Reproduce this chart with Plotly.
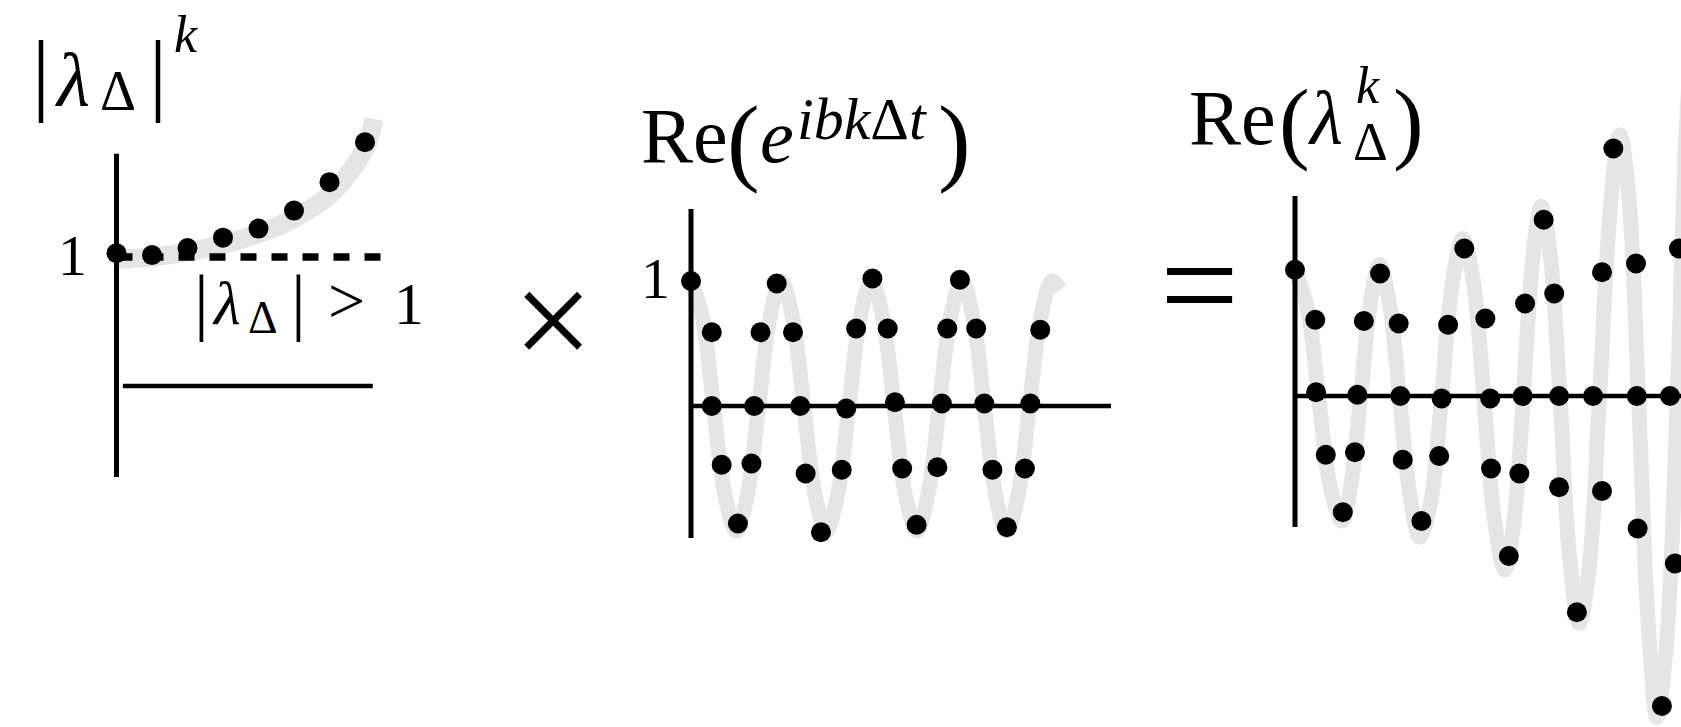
import plotly.graph_objects as go

W, H = 1681, 727
SERIF = "Liberation Serif"
GRAY = "#e5e5e5"
INK = "black"

# ---------------- panel 1 : |lambda|^k ----------------
mag_k = [0, 1, 2, 3, 4, 5, 6, 7]
mag_v = [1.03, 1.015, 1.07, 1.15, 1.22, 1.36, 1.58, 1.89]
mag_curve_k = [0, 1, 2, 3, 4, 5, 6, 7, 7.25]
mag_curve_v = [0.98, 1.0, 1.04, 1.10, 1.18, 1.30, 1.48, 1.84, 2.07]

# ---------------- panel 2 : Re(exp(i b k dt)) ----------------
osc_t = [0.00, 0.23, 0.23, 0.34, 0.52, 0.67, 0.70, 0.77, 0.95, 1.13, 1.21,
         1.27, 1.44, 1.67, 1.72, 1.83, 2.01, 2.18, 2.26, 2.34, 2.50, 2.73,
         2.78, 2.84, 2.98, 3.16, 3.25, 3.34, 3.50, 3.70, 3.76, 3.87]
osc_v = [1.00, 0.59, 0.00, -0.47, -0.94, -0.46, 0.00, 0.59, 0.98, 0.59, 0.00,
         -0.54, -1.01, -0.51, -0.02, 0.62, 1.02, 0.62, 0.03, -0.50, -0.95, -0.49,
         0.02, 0.62, 1.01, 0.62, 0.02, -0.51, -0.97, -0.50, 0.02, 0.61]
osc_curve_t = [0.000, 0.125, 0.250, 0.375, 0.500, 0.625, 0.750, 0.875,
               1.000, 1.125, 1.250, 1.375, 1.500, 1.625, 1.750, 1.875,
               2.000, 2.125, 2.250, 2.375, 2.500, 2.625, 2.750, 2.875,
               3.000, 3.125, 3.250, 3.375, 3.500, 3.625, 3.750, 3.875,
               4.000, 4.090]
osc_curve_v = [1.00, 0.71, 0.00, -0.71, -1.00, -0.71, 0.00, 0.71,
               1.00, 0.71, 0.00, -0.71, -1.00, -0.71, 0.00, 0.71,
               1.00, 0.71, 0.00, -0.71, -1.00, -0.71, 0.00, 0.71,
               1.00, 0.71, 0.00, -0.71, -1.00, -0.71, 0.00, 0.71,
               1.00, 0.93]

# ---------------- panel 3 : Re(lambda^k) ----------------
grow_t = [0.00, 0.25, 0.26, 0.38, 0.59, 0.74, 0.77, 0.85, 1.05, 1.28, 1.30,
          1.33, 1.56, 1.78, 1.81, 1.89, 2.09, 2.35, 2.41, 2.42, 2.64, 2.77,
          2.81, 2.84, 3.07, 3.20, 3.26, 3.26, 3.48, 3.79, 3.68, 3.79, 3.93,
          4.21, 4.22, 4.23, 4.53, 4.69, 4.63, 4.74, 4.83]
grow_v = [1.01, 0.61, 0.03, -0.47, -0.93, -0.45, 0.01, 0.60, 0.98, 0.58, 0.00,
          -0.51, -1.00, -0.48, -0.02, 0.57, 1.18, 0.62, -0.02, -0.58, -1.28, -0.62,
          0.00, 0.74, 1.41, 0.82, 0.00, -0.73, -1.73, -0.76, 0.00, 0.99, 1.98,
          1.06, 0.00, -1.06, -2.48, -1.34, 0.00, 1.18, 2.38]
grow_curve_t = [0.00, 0.15, 0.29, 0.43, 0.58, 0.69, 0.81, 0.93, 1.04, 1.16,
                1.29, 1.42, 1.54, 1.68, 1.81, 1.94, 2.07, 2.20, 2.33, 2.46,
                2.59, 2.70, 2.82, 2.93, 3.04, 3.15, 3.27, 3.39, 3.51, 3.63,
                3.76, 3.89, 4.01, 4.12, 4.24, 4.36, 4.47, 4.59, 4.72, 4.84,
                4.96]
grow_curve_v = [1.00, 0.71, 0.00, -0.71, -1.00, -0.71, 0.00, 0.74, 1.05, 0.76,
                0.00, -0.80, -1.13, -0.83, 0.00, 0.89, 1.26, 0.92, 0.00, -0.98,
                -1.39, -1.02, 0.00, 1.07, 1.52, 1.14, 0.00, -1.29, -1.82, -1.38,
                0.00, 1.48, 2.09, 1.60, 0.00, -1.82, -2.57, -1.95, 0.00, 2.26,
                3.20]

# pixel frame of each panel: origin, pixels per unit, horizontal extent
panels = {
    1: dict(x0=116.5, xs=35.5, y0=386.0, ys=129.0, left=10, right=450),
    2: dict(x0=691.0, xs=90.25, y0=406.0, ys=125.0, left=600, right=1140),
    3: dict(x0=1295.0, xs=81.0, y0=396.0, ys=125.0, left=1150, right=W),
}

fig = go.Figure()

layout_axes = {}
for i, p in panels.items():
    xa = "xaxis" if i == 1 else f"xaxis{i}"
    ya = "yaxis" if i == 1 else f"yaxis{i}"
    layout_axes[xa] = dict(
        domain=[p["left"] / W, p["right"] / W],
        range=[(p["left"] - p["x0"]) / p["xs"], (p["right"] - p["x0"]) / p["xs"]],
        visible=False, fixedrange=True)
    layout_axes[ya] = dict(
        domain=[0, 1], anchor="x" if i == 1 else f"x{i}",
        range=[(p["y0"] - H) / p["ys"], p["y0"] / p["ys"]],
        visible=False, fixedrange=True)
    if i != 1:
        layout_axes[xa]["anchor"] = f"y{i}"


def ax_ref(i):
    return ("x", "y") if i == 1 else (f"x{i}", f"y{i}")


# (panel, x, y, band width)
curves = [(1, mag_curve_k, mag_curve_v, 19), (2, osc_curve_t, osc_curve_v, 15),
          (3, grow_curve_t, grow_curve_v, 15)]
dots = [(1, mag_k, mag_v), (2, osc_t, osc_v), (3, grow_t, grow_v)]

for i, xs, ys, w in curves:
    xr, yr = ax_ref(i)
    fig.add_trace(go.Scatter(x=xs, y=ys, mode="lines", xaxis=xr, yaxis=yr,
                             line=dict(color=GRAY, width=w, shape="spline",
                                       smoothing=1.0),
                             hoverinfo="skip", showlegend=False))
for i, xs, ys in dots:
    xr, yr = ax_ref(i)
    fig.add_trace(go.Scatter(x=xs, y=ys, mode="markers", xaxis=xr, yaxis=yr,
                             marker=dict(color=INK, size=20, line=dict(width=0)),
                             cliponaxis=False, hoverinfo="skip",
                             showlegend=False))


def seg(i, x0, y0, x1, y1, width, dash="solid"):
    xr, yr = ax_ref(i)
    return dict(type="line", xref=xr, yref=yr, x0=x0, y0=y0, x1=x1, y1=y1,
                layer="above", line=dict(color=INK, width=width, dash=dash))


shapes = [
    # panel 1 axes, reference level |lambda| = 1
    seg(1, 0, -0.705, 0, 1.80, 5),
    seg(1, 0.18, 0, 7.22, 0, 4.5),
    seg(1, 0, 1, 7.44, 1, 7.5, dash="16px,15px"),
    # panel 2 axes
    seg(2, 0, -1.056, 0, 1.576, 5),
    seg(2, 0, 0, 4.654, 0, 4.5),
    # panel 3 axes
    seg(3, 0, -1.048, 0, 1.60, 5),
    seg(3, 0, 0, 4.9, 0, 4.5),
]

DESC = 0.216


def txt(text, x, base, size, anchor="left"):
    return dict(text=text, x=x / W, y=1 - (base + DESC * size + 1) / H,
                xref="paper", yref="paper", xanchor=anchor, yanchor="bottom",
                showarrow=False,
                font=dict(family=SERIF, size=size, color=INK))


annotations = [
    # |lambda_Delta|^k
    txt("|", 41, 105, 90, "center"),
    txt("<i>λ</i>", 53, 107, 76),
    txt("Δ", 98, 111, 56),
    txt("|", 158, 105, 90, "center"),
    txt("<i>k</i>", 172, 53, 52),
    txt("1", 72, 276, 58, "center"),
    # |lambda_Delta| > 1
    txt("|", 201, 327, 74, "center"),
    txt("<i>λ</i>", 210, 325, 62),
    txt("Δ", 246, 334, 46),
    txt("|", 298, 327, 74, "center"),
    txt(">", 326, 324, 66),
    txt("1", 392, 325, 60),
    # times sign
    txt("×", 553, 369, 142, "center"),
    # Re(e^{i b k Delta t})
    txt("Re", 639, 163, 78),
    txt("(", 743, 174, 98, "center"),
    txt("<i>e</i>", 758, 163, 76),
    txt("<i>ibk</i>Δ<i>t</i>", 795, 140, 60),
    txt(")", 954, 174, 98, "center"),
    txt("1", 655, 299, 58, "center"),
    # equals sign
    txt("=", 1199, 333, 140, "center"),
    # Re(lambda_Delta^k)
    txt("Re", 1187, 145, 78),
    txt("(", 1294, 153, 92, "center"),
    txt("<i>λ</i>", 1306, 145, 76),
    txt("<i>k</i>", 1354, 104, 52),
    txt("Δ", 1351, 161, 54),
    txt(")", 1408, 153, 92, "center"),
]

fig.update_layout(
    width=W, height=H,
    margin=dict(l=0, r=0, t=0, b=0),
    paper_bgcolor="white", plot_bgcolor="white",
    showlegend=False,
    shapes=shapes,
    annotations=annotations,
    **layout_axes,
)

fig.write_html("out.html", config=dict(displayModeBar=False, staticPlot=True))
